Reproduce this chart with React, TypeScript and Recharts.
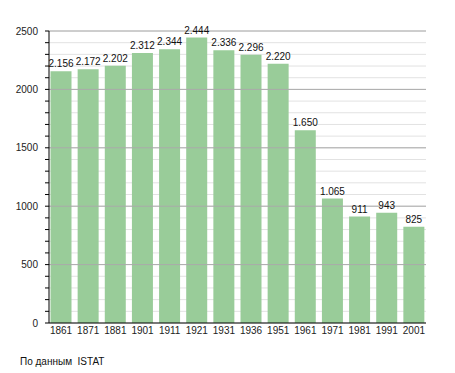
import React from 'react';
import { BarChart, Bar, XAxis, YAxis, CartesianGrid, ReferenceLine, LabelList } from 'recharts';

const years = ['1861', '1871', '1881', '1901', '1911', '1921', '1931', '1936', '1951', '1961', '1971', '1981', '1991', '2001'];
const population = [2156, 2172, 2202, 2312, 2344, 2444, 2336, 2296, 2220, 1650, 1065, 911, 943, 825];
const yTicks = [0, 100, 200, 300, 400, 500, 600, 700, 800, 900, 1000, 1100, 1200, 1300, 1400, 1500, 1600, 1700, 1800, 1900, 2000, 2100, 2200, 2300, 2400, 2500];
const yMajor = [500, 1000, 1500, 2000, 2500];
const sourceNote = 'По данным\u00a0\u00a0ISTAT';

const data = years.map((y, i) => ({ year: y, value: population[i] }));

const FONT = '"Liberation Sans", Arial, sans-serif';

const fmt = (v: number) => {
  if (v >= 1000) {
    const s = String(v);
    return s.slice(0, s.length - 3) + '.' + s.slice(s.length - 3);
  }
  return String(v);
};

const YTick = (props: any) => {
  const { x, y, payload } = props;
  if (!yMajor.includes(payload.value) && payload.value !== 0) return null;
  return (
    <text x={x} y={y} dy={3.5} textAnchor="end" fontSize={10} fontFamily={FONT} fill="#222">
      {payload.value}
    </text>
  );
};

export default function App() {
  return (
    <div style={{ position: 'absolute', left: 0, top: 0, width: 455, height: 373, background: '#fff' }}>
      <BarChart
        width={455}
        height={373}
        data={data}
        margin={{ top: 31, right: 29, bottom: 20, left: 0 }}
        barSize={21}
      >
        <CartesianGrid vertical={false} stroke="#e2e2e2" />
        {yMajor.map((v) => (
          <ReferenceLine key={v} y={v} stroke="#aaaaaa" strokeWidth={1} ifOverflow="extendDomain" />
        ))}
        <XAxis
          dataKey="year"
          axisLine={{ stroke: '#000' }}
          tickLine={false}
          tickSize={0}
          tickMargin={4}
          height={30}
          interval={0}
          padding={{ left: -1.5, right: -1.5 }}
          tick={{ fontSize: 10, fontFamily: FONT, fill: '#222' }}
        />
        <YAxis
          width={49}
          domain={[0, 2500]}
          ticks={yTicks}
          interval={0}
          axisLine={{ stroke: '#000' }}
          tickLine={{ stroke: '#000' }}
          tickSize={4}
          tickMargin={7}
          tick={<YTick />}
        />
        <Bar dataKey="value" fill="#99cc99" isAnimationActive={false}>
          <LabelList
            dataKey="value"
            position="top"
            offset={4}
            formatter={(v: any) => fmt(Number(v))}
            style={{ fontSize: 10, fontFamily: FONT, fill: '#111' }}
          />
        </Bar>
      </BarChart>
      <div
        style={{
          position: 'absolute',
          left: 20,
          top: 355,
          fontSize: 10,
          fontFamily: FONT,
          color: '#111',
          whiteSpace: 'pre',
          lineHeight: '14px',
        }}
      >
        {sourceNote}
      </div>
    </div>
  );
}
